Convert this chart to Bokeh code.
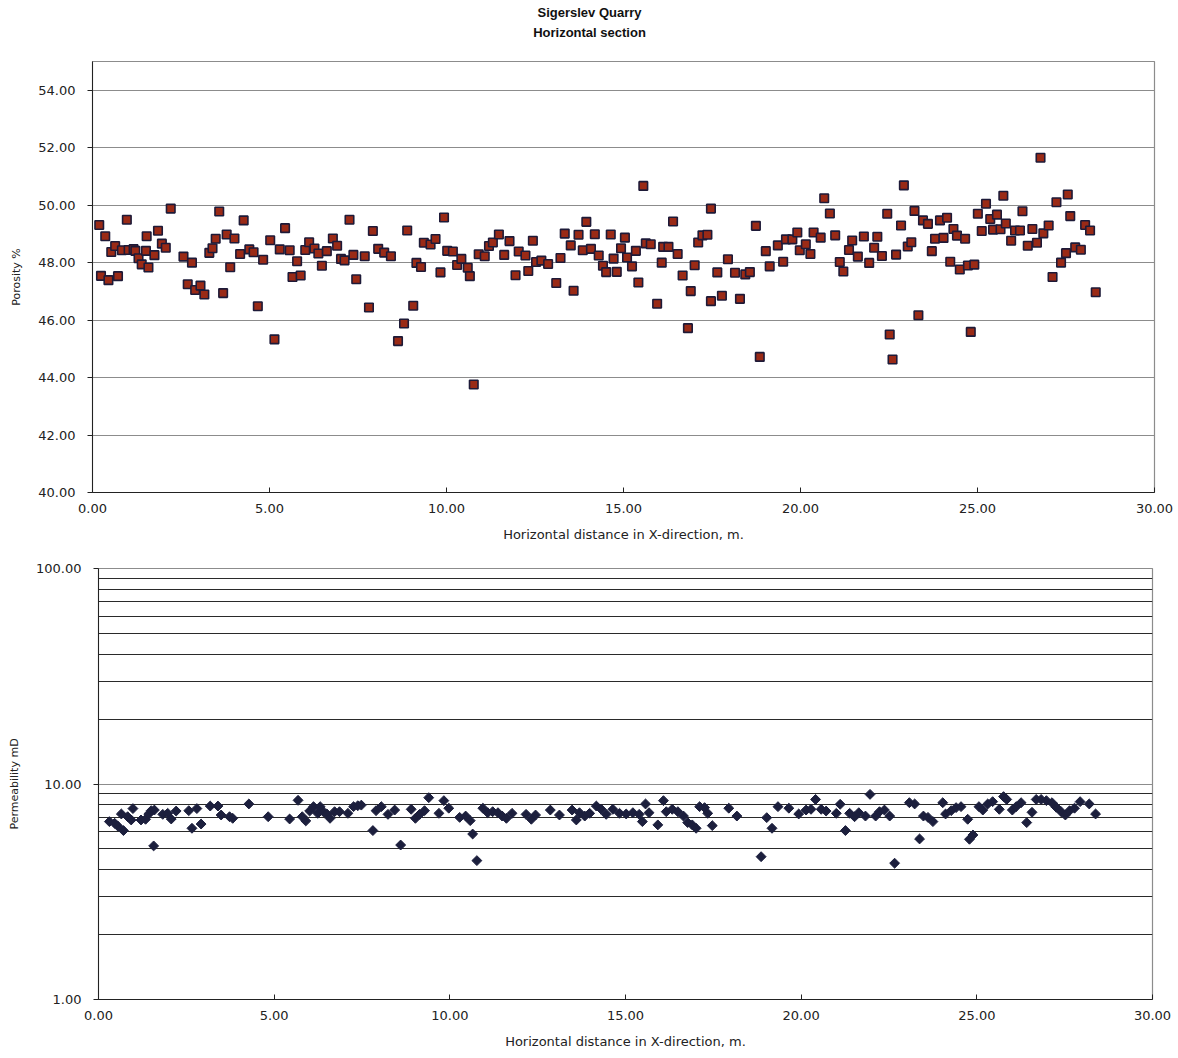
import math
from bokeh.plotting import figure
from bokeh.layouts import column, row
from bokeh.models import FixedTicker, PrintfTickFormatter, Range1d, Spacer
from bokeh.core.properties import value
from bokeh.embed import file_html
from bokeh.resources import INLINE

# ---------------- data ----------------
title_lines = ["Sigerslev Quarry", "Horizontal section"]
x_label = "Horizontal distance in X-direction, m."
por_label = "Porosity %"
perm_label = "Permeability mD"
x_ticks = [0, 5, 10, 15, 20, 25, 30]
por_ticks = [40, 42, 44, 46, 48, 50, 52, 54]
perm_ticks = [1, 10, 100]
perm_minor = [2, 3, 4, 5, 6, 7, 8, 9, 20, 30, 40, 50, 60, 70, 80, 90]

por_x = [0.19, 0.24, 0.36, 0.45, 0.53, 0.64, 0.72, 0.83, 0.97, 1.02, 1.16, 1.21, 1.30, 1.39, 1.51,
         1.53, 1.58, 1.75, 1.85, 1.96, 2.07, 2.21, 2.57, 2.69, 2.81, 2.90, 3.05, 3.16, 3.30, 3.39,
         3.48, 3.58, 3.69, 3.79, 3.89, 4.01, 4.17, 4.27, 4.43, 4.55, 4.67, 4.82, 5.02, 5.14, 5.29,
         5.44, 5.57, 5.65, 5.78, 5.88, 6.01, 6.12, 6.27, 6.38, 6.48, 6.62, 6.79, 6.91, 7.02, 7.12,
         7.26, 7.37, 7.45,
         7.69, 7.81, 7.92, 8.07, 8.24, 8.43, 8.63, 8.80, 8.89, 9.06, 9.15, 9.28, 9.36, 9.55, 9.69,
         9.83, 9.93, 10.02, 10.18, 10.30, 10.42, 10.60, 10.66, 10.77, 10.91, 11.08, 11.20, 11.31,
         11.48, 11.63, 11.78, 11.95, 12.04, 12.23, 12.31, 12.44, 12.53, 12.68, 12.87, 13.10, 13.22,
         13.34, 13.51, 13.59, 13.73, 13.85, 13.95, 14.08, 14.19, 14.30, 14.42, 14.51, 14.64, 14.72,
         14.81, 14.93, 15.04, 15.10,
         15.24, 15.35, 15.42, 15.56, 15.63, 15.77, 15.95, 16.08, 16.12, 16.27, 16.40, 16.53, 16.67,
         16.82, 16.90, 17.01, 17.11, 17.23, 17.37, 17.47, 17.47, 17.65, 17.78, 17.95, 18.15, 18.29,
         18.44, 18.57, 18.74, 18.85, 19.02, 19.13, 19.36, 19.51, 19.59, 19.77, 19.91, 19.98, 20.15,
         20.28, 20.37, 20.57, 20.67, 20.83, 20.98, 21.11, 21.21, 21.37, 21.46, 21.62, 21.79, 21.94,
         22.08, 22.17, 22.30, 22.45, 22.52, 22.60, 22.70,
         22.84, 22.92, 23.03, 23.13, 23.22, 23.33, 23.46, 23.60, 23.71, 23.80, 23.94, 24.04, 24.14,
         24.23, 24.32, 24.42, 24.50, 24.65, 24.73, 24.81, 24.91, 25.01, 25.12, 25.24, 25.36, 25.44,
         25.55, 25.65, 25.73, 25.80, 25.95, 26.06, 26.20, 26.27, 26.42, 26.55, 26.68, 26.78, 26.86,
         27.01, 27.12, 27.23, 27.36, 27.50, 27.55, 27.62, 27.76, 27.92, 28.04, 28.18, 28.34]
por_y = [49.31, 47.54, 48.92, 47.39, 48.37, 48.58, 47.53, 48.43, 49.49, 48.44, 48.47, 48.41, 48.15, 47.94, 48.41,
         48.92, 47.83, 48.26, 49.11, 48.66, 48.52, 49.88, 48.21, 47.25, 48.00, 47.05, 47.20, 46.89, 48.34, 48.50,
         48.83, 49.78, 46.94, 48.98, 47.84, 48.84, 48.30, 49.47, 48.46, 48.36, 46.48, 48.10, 48.78, 45.33, 48.46,
         49.20, 48.43, 47.50, 48.05, 47.55, 48.44, 48.71, 48.49, 48.32, 47.89, 48.40, 48.84, 48.59, 48.13, 48.08,
         49.49, 48.27, 47.42,
         48.22, 46.44, 49.10, 48.48, 48.35, 48.22, 45.27, 45.88, 49.12, 46.50, 47.99, 47.85, 48.69, 48.63, 48.82,
         47.66, 49.57, 48.41, 48.39, 47.92, 48.13, 47.82, 47.53, 43.76, 48.29, 48.22, 48.58, 48.70,
         48.98, 48.27, 48.75, 47.56, 48.39, 48.25, 47.71, 48.76, 48.02, 48.07, 47.95, 47.29, 48.16,
         49.01, 48.60, 47.02, 48.97, 48.43, 49.42, 48.48, 48.99, 48.25, 47.89, 47.67, 48.98, 48.14,
         47.68, 48.50, 48.87, 48.18,
         47.87, 48.41, 47.31, 50.67, 48.67, 48.64, 46.57, 48.00, 48.55, 48.55, 49.43, 48.30, 47.55,
         45.72, 47.01, 47.91, 48.70, 48.95, 48.97, 49.88, 46.66, 47.66, 46.85, 48.12, 47.65, 46.74,
         47.59, 47.67, 49.28, 44.72, 48.40, 47.87, 48.60, 48.03, 48.81, 48.81, 49.05, 48.43, 48.64,
         48.30, 49.05, 48.87, 50.24, 49.71, 48.95, 48.02, 47.69, 48.44, 48.77, 48.21, 48.91, 47.99,
         48.52, 48.90, 48.23, 49.70, 45.50, 44.63, 48.28,
         49.29, 50.69, 48.56, 48.71, 49.80, 46.17, 49.47, 49.35, 48.40, 48.83, 49.47, 48.86, 49.56,
         48.03, 49.17, 48.94, 47.76, 48.83, 47.90, 45.59, 47.93, 49.70, 49.10, 50.05, 49.52, 49.15,
         49.67, 49.16, 50.33, 49.36, 48.76, 49.12, 49.12, 49.79, 48.59, 49.17, 48.69, 51.65, 49.02,
         49.29, 47.50, 50.10, 48.00, 48.33, 50.37, 49.62, 48.53, 48.45, 49.31, 49.12, 46.97]

perm_x = [0.31, 0.46, 0.55, 0.65, 0.71, 0.83, 0.93, 0.98, 1.21, 1.34, 1.43, 1.50, 1.57, 1.59, 1.83,
          1.97, 2.07, 2.21, 2.57, 2.66, 2.80, 2.92, 3.18, 3.40, 3.49, 3.73, 3.82, 4.28, 4.83, 5.44,
          5.68, 5.80, 5.90, 6.01, 6.12, 6.24, 6.31, 6.40, 6.50, 6.59, 6.72, 6.86, 7.10, 7.26, 7.38,
          7.48, 7.81, 7.90, 8.05, 8.24, 8.43,
          8.60, 8.90, 9.02, 9.14, 9.28, 9.40, 9.69, 9.83, 9.97, 10.28, 10.45, 10.58, 10.65, 10.77,
          10.94, 11.08, 11.22, 11.37, 11.49, 11.61, 11.77, 12.17, 12.32, 12.44, 12.86, 13.12, 13.48,
          13.60, 13.69, 13.84, 13.98, 14.17, 14.31, 14.45, 14.64, 14.83, 15.02, 15.21, 15.39, 15.48,
          15.57, 15.67, 15.92, 16.08, 16.16, 16.33, 16.49, 16.65, 16.77, 16.90, 17.01, 17.11, 17.25,
          17.34, 17.47, 17.94, 18.17, 18.86, 19.02, 19.17, 19.34,
          19.65, 19.93, 20.14, 20.28, 20.41, 20.57, 20.71, 21.00, 21.11, 21.26, 21.38, 21.52, 21.64,
          21.83, 21.96, 22.12, 22.23, 22.37, 22.52, 22.66, 23.08, 23.23, 23.37, 23.48, 23.61, 23.75,
          24.03, 24.11, 24.27, 24.41, 24.55, 24.74, 24.79, 24.89, 25.06, 25.17, 25.31, 25.45, 25.64,
          25.76, 25.85, 26.01, 26.12, 26.26, 26.42, 26.57, 26.69, 26.83, 26.98, 27.14, 27.26, 27.40,
          27.52, 27.64, 27.78, 27.94, 28.20, 28.38]
perm_y = [6.69, 6.57, 6.38, 7.26, 6.08, 7.05, 6.81, 7.69, 6.81, 6.86, 7.26, 7.52, 5.16, 7.57, 7.23,
          7.31, 6.88, 7.49, 7.52, 6.23, 7.69, 6.52, 7.90, 7.90, 7.18, 7.05, 6.93, 8.08, 7.05, 6.88,
          8.40, 7.05, 6.74, 7.49, 7.85, 7.31, 7.85, 7.44, 7.26, 6.93, 7.44, 7.44, 7.31, 7.85, 7.93,
          7.98, 6.08, 7.52, 7.85, 7.23, 7.57,
          5.21, 7.63, 6.93, 7.23, 7.52, 8.64, 7.31, 8.37, 7.72, 7.00, 7.10, 6.76, 5.86, 4.41,
          7.72, 7.36, 7.44, 7.36, 7.10, 6.93, 7.31, 7.23, 6.86, 7.18, 7.57, 7.18, 7.57,
          6.81, 7.36, 7.10, 7.31, 7.90, 7.63, 7.23, 7.63, 7.31, 7.26, 7.36, 7.23, 6.69,
          8.08, 7.36, 6.46, 8.37, 7.44, 7.63, 7.44, 7.10, 6.62, 6.46, 6.23, 7.85, 7.77,
          7.31, 6.41, 7.72, 7.10, 4.60, 6.98, 6.23, 7.85,
          7.72, 7.26, 7.57, 7.63, 8.48, 7.63, 7.49, 7.31, 8.05, 6.08, 7.31, 7.05, 7.36,
          7.10, 8.95, 7.10, 7.44, 7.57, 7.10, 4.29, 8.19, 8.08, 5.56, 7.10, 7.00, 6.69,
          8.19, 7.26, 7.52, 7.77, 7.85, 6.86, 5.54, 5.80, 7.85, 7.57, 8.08, 8.28, 7.63,
          8.74, 8.48, 7.57, 7.85, 8.19, 6.62, 7.39, 8.48, 8.48, 8.37, 8.19, 7.80, 7.44,
          7.18, 7.52, 7.72, 8.28, 8.08, 7.26]

# ---------------- style ----------------
FONT = "DejaVu Sans"
W = 1178
GRID = "#8c8c8c"
INK = "#222222"


def style_axes(p):
    for ax in p.xaxis:
        ax.ticker = FixedTicker(ticks=x_ticks)
        ax.formatter = PrintfTickFormatter(format="%.2f")
        ax.major_tick_in = 5
        ax.major_tick_out = 0
        ax.minor_tick_line_color = None
        ax.major_label_standoff = 11
        ax.axis_label = x_label
        ax.axis_label_standoff = 11
        ax.axis_label_text_font = FONT
        ax.axis_label_text_font_size = "13px"
        ax.axis_label_text_font_style = "normal"
        ax.major_label_text_font = FONT
        ax.major_label_text_font_size = "13px"
        ax.axis_line_color = INK
        ax.major_tick_line_color = INK
        ax.major_label_text_color = INK
        ax.axis_label_text_color = INK
    for ax in p.yaxis:
        ax.major_tick_in = 0
        ax.major_tick_out = 5
        ax.minor_tick_line_color = None
        ax.major_label_standoff = 12
        ax.formatter = PrintfTickFormatter(format="%.2f")
        ax.axis_label_standoff = 12
        ax.axis_label_text_font = FONT
        ax.axis_label_text_font_size = "11px"
        ax.axis_label_text_font_style = "normal"
        ax.major_label_text_font = FONT
        ax.major_label_text_font_size = "13px"
        ax.axis_line_color = INK
        ax.major_tick_line_color = INK
        ax.major_label_text_color = INK
        ax.axis_label_text_color = INK
    p.xgrid.grid_line_color = None
    p.outline_line_color = GRID
    p.outline_line_width = 1.2
    p.background_fill_color = "white"
    p.border_fill_color = "white"


# ---------- title ----------
pt = figure(width=W, height=50, x_range=Range1d(0, W), y_range=Range1d(0, 50),
            output_backend="svg", toolbar_location=None,
            x_axis_location=None, y_axis_location=None, min_border=0)
pt.grid.grid_line_color = None
pt.outline_line_color = None
pt.text(x=[W / 2, W / 2], y=[38, 18], text=title_lines,
        text_font=value("Liberation Sans"), text_font_style="bold",
        text_font_size="13px", text_align="center", text_baseline="middle",
        text_color="#111111")

# ---------- porosity ----------
p1 = figure(frame_width=1062, frame_height=431, min_border_left=92, min_border_right=24,
            min_border_top=11, min_border_bottom=53,
            x_range=Range1d(0, 30), y_range=Range1d(40, 55),
            output_backend="svg", toolbar_location=None)
style_axes(p1)
p1.yaxis.ticker = FixedTicker(ticks=por_ticks)
p1.yaxis.axis_label = por_label
p1.ygrid.ticker = FixedTicker(ticks=por_ticks)
p1.ygrid.grid_line_color = GRID
p1.ygrid.grid_line_width = 1.2
p1.scatter(por_x, por_y, marker="square", size=8.5, fill_color="#9a2a16",
           line_color="#1d1a38", line_width=1.6)

# ---------- permeability ----------
p2 = figure(frame_width=1054, frame_height=431, min_border_left=92, min_border_right=27,
            min_border_top=23, min_border_bottom=59,
            x_range=Range1d(0, 30), y_range=Range1d(1, 100), y_axis_type="log",
            output_backend="svg", toolbar_location=None)
style_axes(p2)
p2.yaxis.ticker = FixedTicker(ticks=perm_ticks, minor_ticks=perm_minor)
p2.yaxis.axis_label = perm_label
p2.ygrid.ticker = FixedTicker(ticks=perm_ticks, minor_ticks=perm_minor)
p2.ygrid.grid_line_color = GRID
p2.ygrid.grid_line_width = 1.2
p2.ygrid.minor_grid_line_color = "#2a2a2a"
p2.ygrid.minor_grid_line_width = 1.2
p2.scatter(perm_x, perm_y, marker="square", angle=math.pi / 4, size=7,
           fill_color="#1c1f3d", line_color="#1c1f3d", line_width=1)

layout = column(column(pt), column(p1), row(Spacer(width=5, height=513), p2), spacing=0)
open("out.html", "w").write(file_html(layout, INLINE))
